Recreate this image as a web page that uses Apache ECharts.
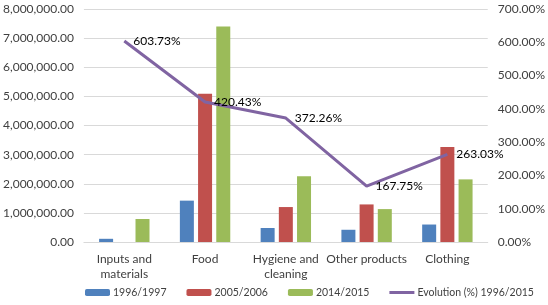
<!DOCTYPE html>
<html>
<head>
<meta charset="utf-8">
<script src="https://cdn.jsdelivr.net/npm/echarts@6/dist/echarts.min.js"></script>
<style>
    html, body { margin: 0; padding: 0; background: #fff; }
    #chart { width: 548px; height: 305px; }
</style>
</head>
<body>
<div id="chart"></div>
<script>
    // categories and values
    var categories = ['Inputs and\nmaterials', 'Food', 'Hygiene and\ncleaning', 'Other products', 'Clothing'];
    var values9697 = [110000, 1420000, 480000, 420000, 600000];
    var values0506 = [0, 5090000, 1200000, 1290000, 3260000];
    var values1415 = [790000, 7400000, 2260000, 1130000, 2150000];
    var evolution = [603.73, 420.43, 372.26, 167.75, 263.03];

    var textColor = '#404040';
    var fontFamily = 'Lato, "Open Sans", sans-serif';

    var myChart = echarts.init(document.getElementById('chart'));

    var option = {
        animation: false,
        textStyle: { fontFamily: fontFamily },
        grid: { left: 78, right: 56, top: 9, bottom: 63 },
        legend: {
            bottom: 2,
            left: 80,
            itemWidth: 25,
            itemHeight: 7,
            itemGap: 20,
            textStyle: { color: textColor, fontSize: 10.5, fontFamily: fontFamily, padding: [0, 0, 0, -2] },
            data: [
                '1996/1997', '2005/2006', '2014/2015',
                { name: 'Evolution (%) 1996/2015', icon: 'path://M0,0 L25,0 L25,3 L0,3 Z' }
            ]
        },
        xAxis: {
            type: 'category',
            data: categories,
            axisTick: { show: false },
            axisLine: { lineStyle: { color: '#d9d9d9' } },
            axisLabel: { color: textColor, fontSize: 12, margin: 10, lineHeight: 15, interval: 0 }
        },
        yAxis: [
            {
                type: 'value',
                min: 0,
                max: 8000000,
                interval: 1000000,
                axisLine: { show: false },
                axisTick: { show: false },
                splitLine: { lineStyle: { color: '#d9d9d9', width: 1 } },
                axisLabel: {
                    color: textColor, fontSize: 12, margin: 10,
                    formatter: function (v) {
                        return v.toLocaleString('en-US', { minimumFractionDigits: 2, maximumFractionDigits: 2 });
                    }
                }
            },
            {
                type: 'value',
                min: 0,
                max: 700,
                interval: 100,
                axisLine: { show: false },
                axisTick: { show: false },
                splitLine: { show: false },
                axisLabel: {
                    color: textColor, fontSize: 12, margin: 10,
                    formatter: function (v) { return v.toFixed(2) + '%'; }
                }
            }
        ],
        series: [
            {
                name: '1996/1997', type: 'bar', data: values9697,
                barWidth: 14, barGap: '30%',
                itemStyle: { color: '#4F81BD' }
            },
            {
                name: '2005/2006', type: 'bar', data: values0506,
                barWidth: 14, barGap: '30%',
                itemStyle: { color: '#C0504D' }
            },
            {
                name: '2014/2015', type: 'bar', data: values1415,
                barWidth: 14, barGap: '30%',
                itemStyle: { color: '#9BBB59' }
            },
            {
                name: 'Evolution (%) 1996/2015', type: 'line', yAxisIndex: 1,
                data: evolution,
                symbol: 'circle',
                symbolSize: 0,
                lineStyle: { color: '#8064A2', width: 3 },
                itemStyle: { color: '#8064A2' },
                label: {
                    show: true,
                    position: 'right',
                    distance: 9,
                    color: '#000',
                    fontSize: 12,
                    formatter: function (p) { return p.value.toFixed(2) + '%'; }
                }
            }
        ]
    };

    myChart.setOption(option);
</script>
</body>
</html>
